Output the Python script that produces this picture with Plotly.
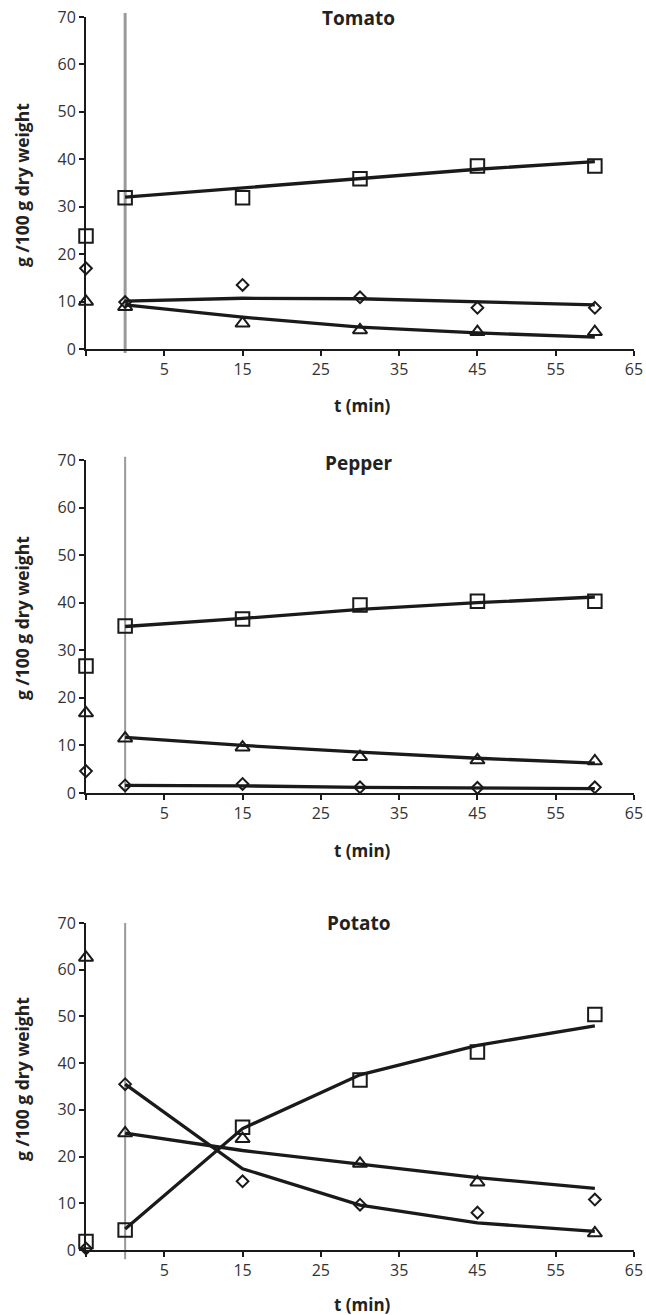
import plotly.graph_objects as go

# ---------------- data ----------------
t_points = [-5, 0, 15, 30, 45, 60]
t_fit = [0, 15, 30, 45, 60]

x_tickvals = [-5, 5, 15, 25, 35, 45, 55, 65]
x_ticktext = ["", "5", "15", "25", "35", "45", "55", "65"]
y_tickvals = [0, 10, 20, 30, 40, 50, 60, 70]

panel_titles = ["Tomato", "Pepper", "Potato"]

tomato_square = [23.8, 31.9, 31.9, 35.9, 38.6, 38.6]
tomato_square_fit = [32.0, 34.0, 36.0, 37.9, 39.5]
tomato_diamond = [17.0, 9.9, 13.5, 10.9, 8.7, 8.7]
tomato_diamond_fit = [10.1, 10.7, 10.6, 10.0, 9.3]
tomato_triangle = [10.0, 8.9, 5.4, 4.0, 3.6, 3.6]
tomato_triangle_fit = [9.3, 6.7, 4.6, 3.4, 2.5]

pepper_square = [26.7, 35.1, 36.6, 39.5, 40.3, 40.3]
pepper_square_fit = [35.0, 36.7, 38.6, 40.0, 41.2]
pepper_triangle = [16.8, 11.5, 9.6, 7.6, 6.9, 6.7]
pepper_triangle_fit = [11.7, 10.0, 8.6, 7.3, 6.3]
pepper_diamond = [4.6, 1.6, 1.9, 1.2, 1.1, 1.2]
pepper_diamond_fit = [1.6, 1.5, 1.2, 1.0, 0.9]

potato_square = [1.8, 4.3, 26.3, 36.4, 42.4, 50.4]
potato_square_fit = [4.5, 26.0, 37.5, 43.8, 48.0]
potato_diamond = [0.3, 35.5, 14.7, 9.7, 8.0, 10.8]
potato_diamond_fit = [35.5, 17.4, 9.6, 5.8, 4.0]
potato_triangle = [62.6, 25.0, 23.8, 18.5, 14.5, 3.6]
potato_triangle_fit = [25.0, 21.3, 18.4, 15.5, 13.2]

panels = [
    [(tomato_square, tomato_square_fit, "square-open"),
     (tomato_diamond, tomato_diamond_fit, "diamond-open"),
     (tomato_triangle, tomato_triangle_fit, "triangle-up-open")],
    [(pepper_square, pepper_square_fit, "square-open"),
     (pepper_triangle, pepper_triangle_fit, "triangle-up-open"),
     (pepper_diamond, pepper_diamond_fit, "diamond-open")],
    [(potato_square, potato_square_fit, "square-open"),
     (potato_diamond, potato_diamond_fit, "diamond-open"),
     (potato_triangle, potato_triangle_fit, "triangle-up-open")],
]

# ---------------- layout geometry ----------------
W, H = 646, 1315
L, R = 86, 12
PW = W - L - R
plot_px = [(17, 349), (460, 793), (923, 1250)]
title_px = [18, 463, 923]
xtitle_px = [405, 850, 1304]
ytitle_px = [185, 618, 1079]
grey_ext = [(-0.012, 1.012, 3), (-0.006, 1.01, 2), (-0.028, 1.0, 2)]

def py(v):
    return 1 - v / H

def px(v):
    return (v - L) / PW

FONT = "Open Sans, Noto Sans, sans-serif"
LINE_COLOR = "#1a1a1a"
MARKER_SIZES = {"square-open": 13.5, "diamond-open": 9, "triangle-up-open": 12.5}

fig = go.Figure()
annotations = []
shapes = []

for i, series in enumerate(panels):
    xa = "x" if i == 0 else f"x{i+1}"
    ya = "y" if i == 0 else f"y{i+1}"
    for pts, fit, sym in series:
        fig.add_trace(go.Scatter(
            x=t_fit, y=fit, mode="lines", xaxis=xa, yaxis=ya,
            line=dict(color=LINE_COLOR, width=3.3), showlegend=False,
            hoverinfo="skip"))
        fig.add_trace(go.Scatter(
            x=t_points, y=pts, mode="markers", xaxis=xa, yaxis=ya,
            marker=dict(symbol=sym, size=MARKER_SIZES[sym], color="#1a1a1a",
                        line=dict(width=2, color="#1a1a1a")),
            showlegend=False, cliponaxis=False))
    top, bot = plot_px[i]
    axis_common = dict(
        showline=True, linecolor="#1a1a1a", linewidth=2,
        ticks="outside", ticklen=5, tickwidth=1.5, tickcolor="#1a1a1a",
        showgrid=False, zeroline=False, automargin=False,
        tickfont=dict(family=FONT, size=16, color="#333333"),
    )
    fig.update_layout(**{
        ("xaxis" if i == 0 else f"xaxis{i+1}"): dict(
            axis_common, range=[-5, 65], tickvals=x_tickvals, ticktext=x_ticktext,
            anchor=ya, domain=[0, 1]),
        ("yaxis" if i == 0 else f"yaxis{i+1}"): dict(
            axis_common, range=[0, 70], tickvals=y_tickvals,
            anchor=xa, domain=[py(bot), py(top)]),
    })
    g0, g1, gw = grey_ext[i]
    shapes.append(dict(type="line", xref=xa, yref=f"{ya} domain",
                       x0=0, x1=0, y0=g0, y1=g1,
                       line=dict(color="#9a9a9a", width=gw), layer="below"))
    annotations.append(dict(text=f"<b>{panel_titles[i]}</b>", xref="paper", yref="paper",
                            x=px(358), y=py(title_px[i]), xanchor="center", yanchor="middle",
                            showarrow=False, font=dict(family=FONT, size=19, color="#222222")))
    annotations.append(dict(text="<b>t (min)</b>", xref="paper", yref="paper",
                            x=px(362), y=py(xtitle_px[i]), xanchor="center", yanchor="middle",
                            showarrow=False, font=dict(family=FONT, size=17, color="#222222")))
    annotations.append(dict(text="<b>g /100 g dry weight</b>", xref="paper", yref="paper",
                            x=px(22), y=py(ytitle_px[i]), xanchor="center", yanchor="middle",
                            textangle=-90, showarrow=False,
                            font=dict(family=FONT, size=17.5, color="#222222")))

fig.update_layout(
    width=W, height=H,
    margin=dict(l=L, r=R, t=0, b=0, autoexpand=False),
    paper_bgcolor="white", plot_bgcolor="white",
    shapes=shapes, annotations=annotations,
    showlegend=False,
)

fig.write_html(
    "out.html",
    config={"displayModeBar": False},
    post_script="document.body.style.margin='0';document.body.style.overflow='hidden';",
)
